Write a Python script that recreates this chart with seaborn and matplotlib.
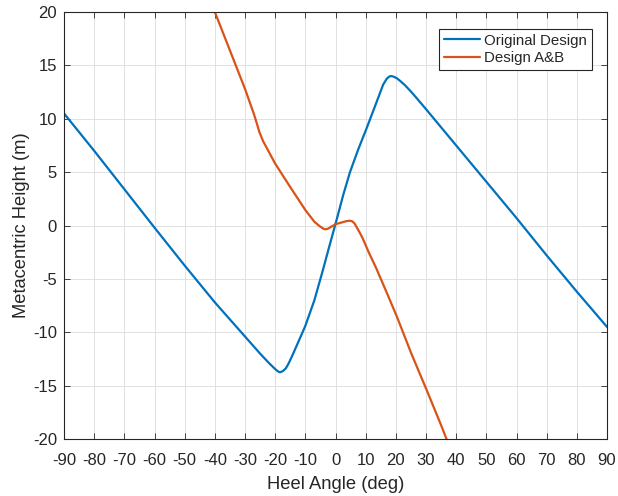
import matplotlib
matplotlib.use("Agg")
import matplotlib.pyplot as plt
import seaborn as sns
import pandas as pd

# Original Design (blue)
orig_x = [-90, -80, -70, -60, -50, -40, -30, -25, -22, -20, -19, -18.4, -17.5, -16.5, -15.5,
          -14.5, -12, -10, -7, -4.2, -2, 0, 1, 2.6, 4.8, 7.5, 10.3, 13, 15.8, 17.0,
          17.8, 18.4, 19.2, 20.3, 21.4, 23, 25, 27, 30, 35, 40, 45, 50, 60, 70, 80, 90]
orig_y = [10.5, 7.0, 3.4, -0.2, -3.75, -7.2, -10.4, -12.0, -12.9, -13.45, -13.68, -13.75, -13.65, -13.4, -12.9,
          -12.3, -10.7, -9.4, -7.0, -4.2, -1.9, 0.15, 1.2, 2.9, 5.0, 7.1, 9.1, 11.1, 13.2, 13.75,
          13.95, 14.0, 13.95, 13.8, 13.55, 13.15, 12.55, 11.9, 10.9, 9.2, 7.5, 5.8, 4.1, 0.7, -2.8, -6.2, -9.5]

# Design A&B (orange)
ab_x = [-40.5, -40, -35, -30, -27, -25.8, -25.3, -24, -20, -15, -10, -7, -5, -4, -3.3, -2.5,
        -1, 0, 2, 3.5, 4.6, 5.5, 6.3, 7.2, 8, 9, 11, 13.5, 17, 20.3, 25, 30.2, 35, 37.5]
ab_y = [20.4, 20.0, 16.4, 12.8, 10.4, 9.3, 8.8, 7.9, 5.8, 3.6, 1.45, 0.35, -0.12, -0.3, -0.36, -0.3,
        -0.05, 0.12, 0.28, 0.4, 0.45, 0.4, 0.2, -0.25, -0.65, -1.2, -2.5, -4.0, -6.3, -8.5, -11.9, -15.4, -18.7, -20.5]

series_names = ["Original Design", "Design A&B"]
colors = ["#0072BD", "#D95319"]
xticks = list(range(-90, 91, 10))
yticks = list(range(-20, 21, 5))

df = pd.concat([
    pd.DataFrame({"x": orig_x, "y": orig_y, "series": series_names[0]}),
    pd.DataFrame({"x": ab_x, "y": ab_y, "series": series_names[1]}),
])

sns.set_style("ticks")
plt.rcParams["font.family"] = ["Liberation Sans", "DejaVu Sans"]
plt.rcParams["axes.unicode_minus"] = False

fig = plt.figure(figsize=(6.18, 4.96), dpi=100)
ax = fig.add_axes([64 / 618, 1 - 439 / 496, 543 / 618, 427 / 496])

sns.lineplot(data=df, x="x", y="y", hue="series", hue_order=series_names,
             palette=colors, linewidth=1.6, sort=False, estimator=None, ax=ax)

ax.set_xlim(-90, 90)
ax.set_ylim(-20, 20)
ax.set_xticks(xticks)
ax.set_yticks(yticks)
ax.grid(True, color="#dcdcdc", linewidth=0.6)
ax.set_axisbelow(True)
for s in ax.spines.values():
    s.set_color("#262626")
    s.set_linewidth(0.8)
    s.set_visible(True)
ax.tick_params(direction="in", top=True, right=True, length=4, width=0.6,
               colors="#262626", labelsize=12)
ax.tick_params(axis="x", pad=10)
ax.tick_params(axis="y", pad=5)
ax.set_xlabel("Heel Angle (deg)", fontsize=13.2, color="#262626", labelpad=6)
ax.set_ylabel("Metacentric Height (m)", fontsize=13.2, color="#262626", labelpad=2)

leg = ax.legend(loc="upper right", bbox_to_anchor=(0.9715, 0.96), fontsize=10.8,
                frameon=True, fancybox=False, framealpha=1, edgecolor="#262626",
                handlelength=2.4, handletextpad=0.3, borderpad=0.3, labelspacing=0.25,
                borderaxespad=0)
leg.get_frame().set_linewidth(0.8)
for line in leg.get_lines():
    line.set_linewidth(1.6)

fig.savefig("out.png", dpi=100)
